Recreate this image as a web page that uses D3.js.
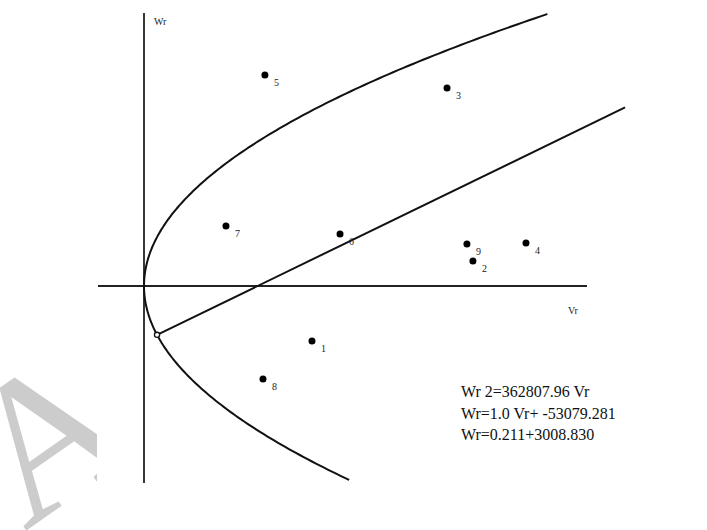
<!DOCTYPE html>
<html>
<head>
<meta charset="utf-8">
<script src="https://cdn.jsdelivr.net/npm/d3@7"></script>
<style>
  body { margin: 0; background: #fff; }
  svg { display: block; }
</style>
</head>
<body>
<div id="chart"></div>
<script>
// Sample points (Vr, Wr)
const pointIds = ["1", "2", "3", "4", "5", "6", "7", "8", "9"];
const pointVr = [78500, 153700, 141600, 178500, 56500, 91600, 38300, 55600, 150900];
const pointWr = [-52900, 24000, 190400, 41300, 202900, 50000, 57700, -89400, 40400];

// fitted curves shown in the legend text
const parabolaCoef = 362807.96;      // Wr^2 = coef * Vr
const lineSlope = 1.0;               // Wr = slope * Vr + intercept
const lineIntercept = -53079.281;
const equations = ["Wr 2=362807.96 Vr", "Wr=1.0 Vr+ -53079.281", "Wr=0.211+3008.830"];

// extents of the drawn axes / curves
const axisVr = [-21500, 207000];
const axisWr = [-189400, 262500];
const parabolaWr = [-186500, 261500];
const lineVrEnd = 224800;

const width = 707, height = 530;

const svg = d3.select("#chart")
    .append("svg")
    .attr("width", width)
    .attr("height", height);

// scales (no ticks in the original, origin at the axis cross)
const x = d3.scaleLinear().domain([0, 200000]).range([144, 572]);
const y = d3.scaleLinear().domain([0, 250000]).range([286, 26]);

// faint watermark letter, partly hidden behind the figure panel
svg.append("text")
    .attr("transform", "translate(84,490) rotate(-35)")
    .attr("text-anchor", "middle")
    .style("font-family", "Liberation Serif")
    .style("font-size", "200px")
    .style("fill", "#cccccc")
    .text("A");

svg.append("rect")
    .attr("x", 97).attr("y", 13)
    .attr("width", width - 97).attr("height", height - 13)
    .attr("fill", "#fff");

// axes
svg.append("line")
    .attr("x1", x(axisVr[0])).attr("x2", x(axisVr[1]))
    .attr("y1", y(0)).attr("y2", y(0))
    .attr("stroke", "#222").attr("stroke-width", 1.8);

svg.append("line")
    .attr("x1", x(0)).attr("x2", x(0))
    .attr("y1", y(axisWr[0])).attr("y2", y(axisWr[1]))
    .attr("stroke", "#222").attr("stroke-width", 1.8);

svg.append("text")
    .attr("x", x(0) + 10).attr("y", 25)
    .style("font-family", "Liberation Serif")
    .style("font-size", "10px")
    .style("fill", "#222")
    .text("Wr");

svg.append("text")
    .attr("x", 568).attr("y", 314)
    .style("font-family", "Liberation Serif")
    .style("font-size", "10px")
    .style("fill", "#222")
    .text("Vr");

// parabola Wr^2 = coef * Vr
const parabola = d3.range(parabolaWr[0], parabolaWr[1] + 1, 2000)
    .map(w => ({ vr: w * w / parabolaCoef, wr: w }));

svg.append("path")
    .datum(parabola)
    .attr("fill", "none")
    .attr("stroke", "#111")
    .attr("stroke-width", 2)
    .attr("d", d3.line().x(d => x(d.vr)).y(d => y(d.wr)).curve(d3.curveBasis));

// straight line starts where it meets the lower branch of the parabola
const disc = Math.sqrt(parabolaCoef * parabolaCoef + 4 * parabolaCoef * -lineIntercept * lineSlope);
const meetWr = (parabolaCoef - disc) / 2;
const meetVr = meetWr * meetWr / parabolaCoef;

svg.append("line")
    .attr("x1", x(meetVr)).attr("y1", y(meetWr))
    .attr("x2", x(lineVrEnd)).attr("y2", y(lineSlope * lineVrEnd + lineIntercept))
    .attr("stroke", "#111")
    .attr("stroke-width", 2);

svg.append("circle")
    .attr("cx", x(meetVr)).attr("cy", y(meetWr))
    .attr("r", 2.6)
    .attr("fill", "#fff")
    .attr("stroke", "#111")
    .attr("stroke-width", 1.3);

// data points
const points = pointIds.map((id, i) => ({ id, vr: pointVr[i], wr: pointWr[i] }));

svg.selectAll(".dot")
    .data(points)
    .enter()
    .append("circle")
    .attr("class", "dot")
    .attr("cx", d => x(d.vr))
    .attr("cy", d => y(d.wr))
    .attr("r", 3.5)
    .attr("fill", "#000");

svg.selectAll(".dot-label")
    .data(points)
    .enter()
    .append("text")
    .attr("class", "dot-label")
    .attr("x", d => x(d.vr) + 9)
    .attr("y", d => y(d.wr) + 11)
    .style("font-family", "Liberation Serif")
    .style("font-size", "10px")
    .style("fill", "#222")
    .text(d => d.id);

// equations block
svg.selectAll(".equation")
    .data(equations)
    .enter()
    .append("text")
    .attr("class", "equation")
    .attr("x", 461)
    .attr("y", (d, i) => 397 + i * 21.5)
    .style("font-family", "Liberation Serif")
    .style("font-size", "16px")
    .style("fill", "#111")
    .text(d => d);
</script>
</body>
</html>
